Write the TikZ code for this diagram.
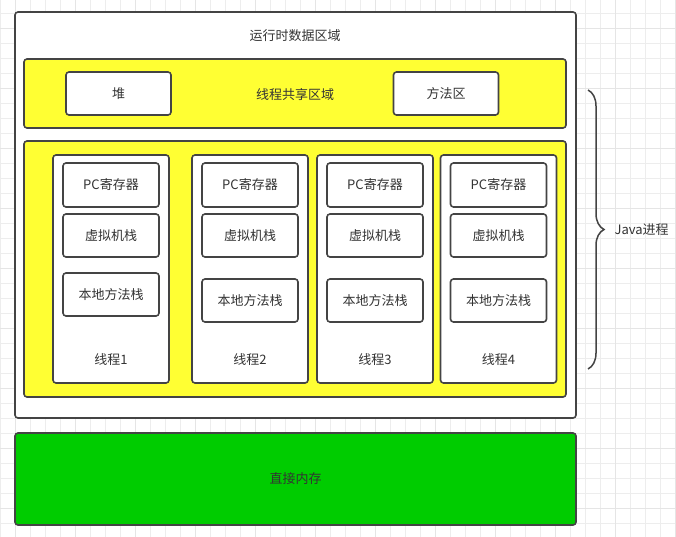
\documentclass[tikz,border=0pt]{standalone}
\usepackage{fontspec}
\setmainfont{Noto Sans CJK SC}
\usetikzlibrary{decorations.pathreplacing}
\definecolor{textgray}{HTML}{333333}
\definecolor{linegray}{HTML}{444444}
\definecolor{areayellow}{HTML}{FFFF33}
\definecolor{areagreen}{HTML}{00CC00}
\begin{document}
\begin{tikzpicture}[x=1pt,y=-1pt,
    every node/.style={font=\fontsize{13}{15}\selectfont, text=textgray},
    area/.style={draw=linegray, line width=1.6pt, rounded corners=3pt, inner sep=0pt},
    box/.style={area, fill=white},
    yellowarea/.style={area, fill=areayellow},
    greenarea/.style={area, fill=areagreen}]
  \useasboundingbox (0,0) rectangle (676,537);
  \fill[white] (0,0) rectangle (676,537);
  % grid
  \foreach \k in {0,...,45}
    \draw[black!7, line width=0.8pt] (15*\k,0) -- (15*\k,537);
  \foreach \k in {0,...,35}
    \draw[black!7, line width=0.8pt] (0,13+15*\k) -- (676,13+15*\k);
  \foreach \k in {1,5,...,45}
    \draw[black!10, line width=0.8pt] (15*\k,0) -- (15*\k,537);
  \foreach \k in {1,5,...,35}
    \draw[black!10, line width=0.8pt] (0,13+15*\k) -- (676,13+15*\k);

  \node[box, minimum width=561pt, minimum height=406pt] (runtime) at (295.5,215) {};
  \node (runtimetitle) at (295,36) {运行时数据区域};

  \node[yellowarea, minimum width=542pt, minimum height=69pt] (shared) at (295,93.5) {};
  \node (sharedtitle) at (295,95) {线程共享区域};
  \node[box, minimum width=105pt, minimum height=43pt] (heap) at (118.5,93.5) {堆};
  \node[box, minimum width=105pt, minimum height=43pt] (method) at (446,93.5) {方法区};

  \node[yellowarea, minimum width=542pt, minimum height=256pt] (private) at (295,269) {};

  \foreach \i/\cx/\ny in {1/111/294.5, 2/250/300.5, 3/375/300.5, 4/498.5/300.5} {
    \node[box, minimum width=116pt, minimum height=228pt] (thread\i) at (\cx,269) {};
    \node[box, minimum width=96pt, minimum height=44pt] (pc\i) at (\cx,185) {PC寄存器};
    \node[box, minimum width=96pt, minimum height=43pt] (vm\i) at (\cx,235.5) {虚拟机栈};
    \node[box, minimum width=96pt, minimum height=43pt] (native\i) at (\cx,\ny) {本地方法栈};
    \node (threadname\i) at (\cx,360) {线程\i};
  }

  \node[greenarea, minimum width=561pt, minimum height=92pt] (direct) at (295.5,479) {直接内存};

  \coordinate (bracetop) at (588,90);
  \coordinate (bracebottom) at (588,369);
  \draw[linegray, line width=1.5pt, decorate, decoration={brace, amplitude=16pt}]
    (bracetop) -- (bracebottom);
  \node[anchor=west] (javaproc) at (611,230) {Java进程};
\end{tikzpicture}
\end{document}
